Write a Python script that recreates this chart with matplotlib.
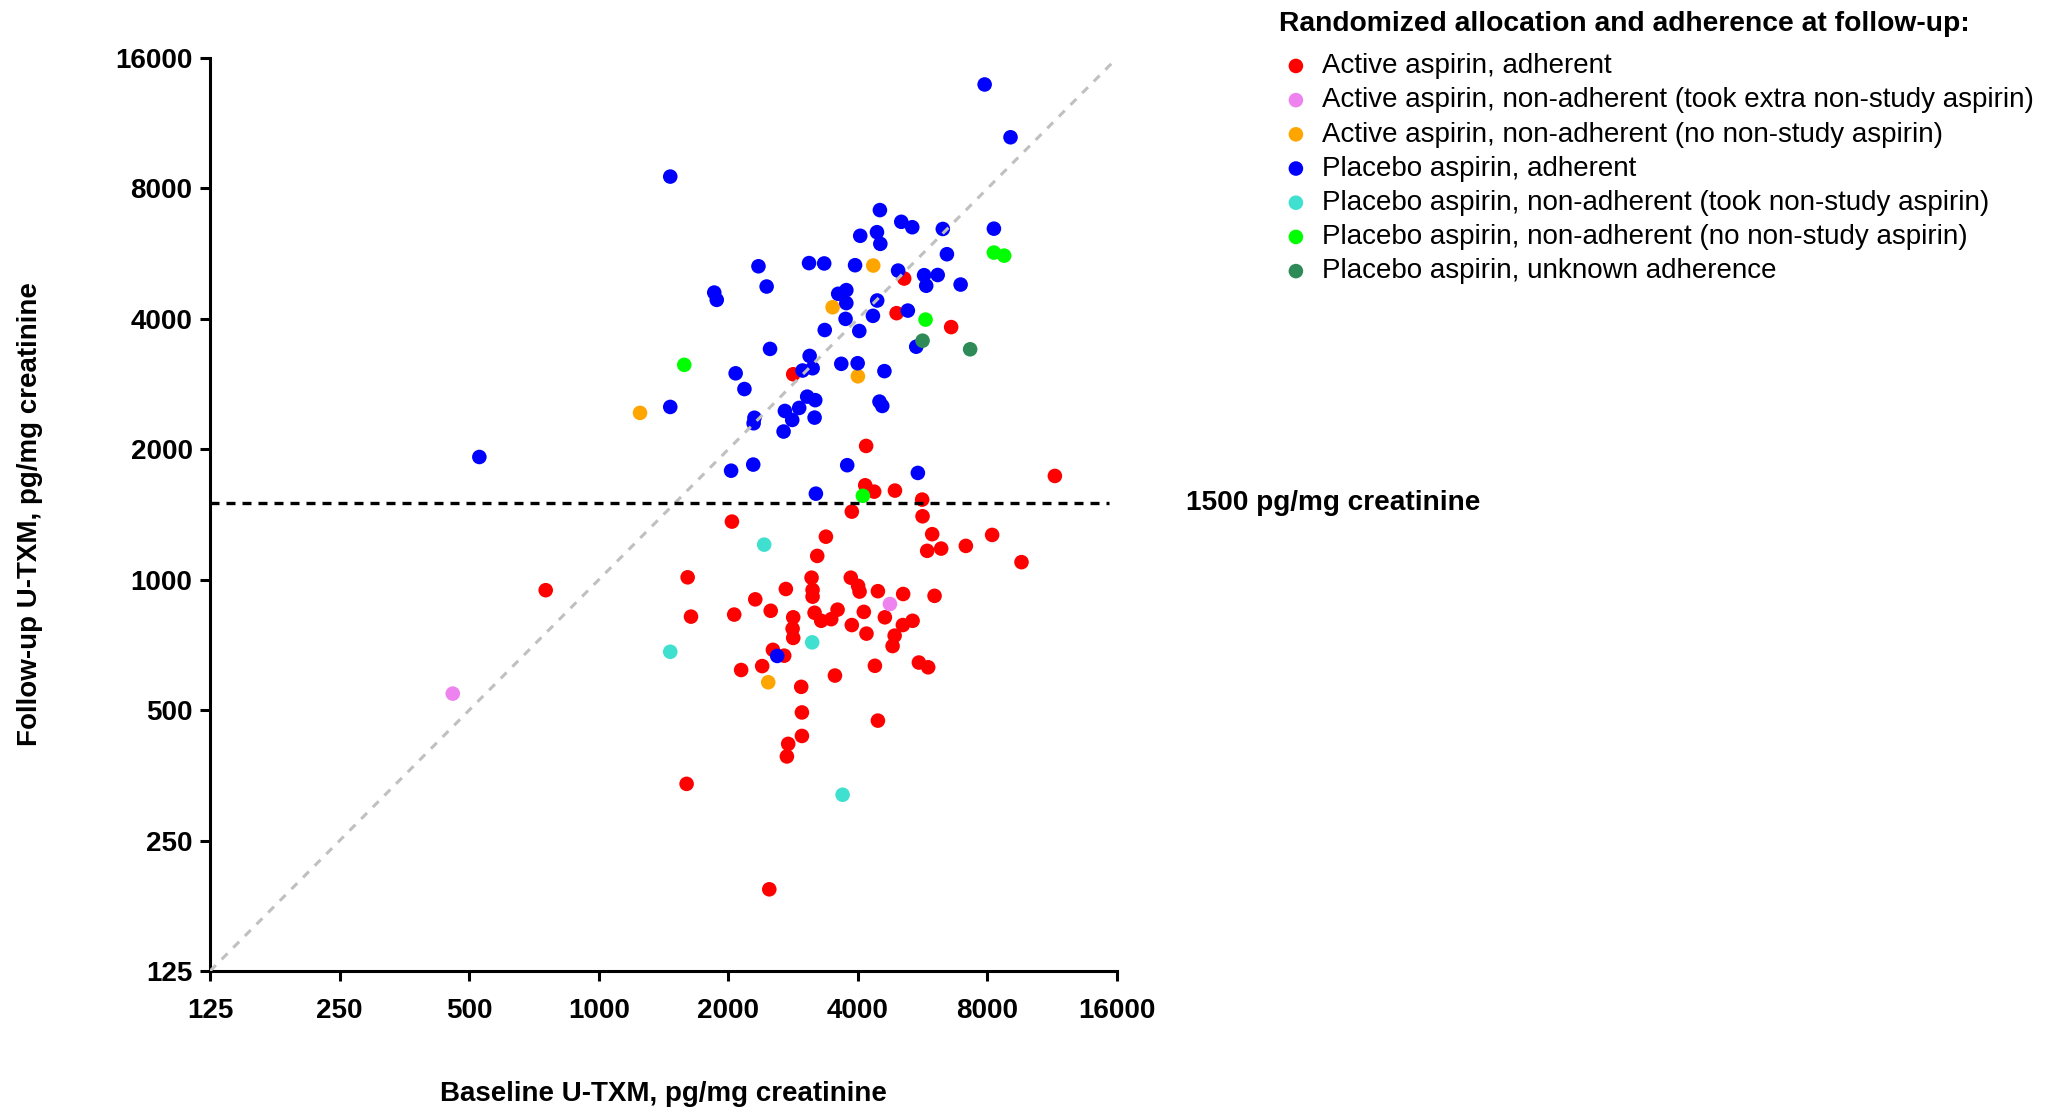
import matplotlib
matplotlib.use("Agg")
import matplotlib.pyplot as plt

plt.rcParams['font.family'] = ['Liberation Sans', 'DejaVu Sans']

# baseline / follow-up U-TXM (pg/mg creatinine)
active_adh_base = [5124, 4920, 6588, 2830, 4180, 11473, 4160, 4364, 4877, 5641,
                   3872, 5653, 2039, 1609, 3371, 3218, 5952, 5795, 6245, 7127,
                   8202, 9598, 3122, 3139, 3139, 2721, 2310, 2509, 1638, 2064,
                   3851, 4004, 4036, 4452, 5096, 6028, 3173, 3287, 3468, 3588,
                   4129, 4621, 5360, 5088, 3872, 4188, 2830, 2821, 2830, 4869,
                   4816, 2539, 2697, 2142, 2397, 4381, 5543, 5826, 3538, 2954,
                   2965, 4452, 2965, 2755, 2736, 1600, 2490, 753]
active_adh_fu = [4956, 4123, 3829, 2980, 2036, 1736, 1652, 1597, 1606, 1531,
                 1436, 1401, 1362, 1013, 1257, 1135, 1274, 1166, 1180, 1197,
                 1269, 1098, 1011, 947, 914, 952, 901, 848, 822, 831,
                 1011, 968, 939, 941, 927, 918, 839, 804, 811, 853,
                 843, 819, 804, 786, 786, 751, 819, 771, 734, 743,
                 703, 689, 668, 619, 632, 633, 644, 628, 601, 566,
                 494, 473, 436, 418, 391, 338, 193, 946]

active_extra_base = [4748, 458]
active_extra_fu = [879, 546]

active_nonadh_base = [4342, 3494, 4000, 1247, 2476]
active_nonadh_fu = [5311, 4255, 2948, 2427, 580]

placebo_adh_base = [7880, 9050, 1466, 4500, 5045, 5350, 6300, 8280, 4050, 4430,
                    4510, 6440, 2350, 3080, 3340, 3940, 4960, 5700, 6130, 5765,
                    6930, 1855, 1880, 2455, 3600, 3760, 3760, 4435, 5225, 3745,
                    4335, 3350, 4030, 5465, 2500, 3090, 3660, 3995, 2080, 2180,
                    2975, 3140, 4610, 1466, 2300, 2290, 2707, 2922, 3050, 3184,
                    2815, 3173, 2688, 4490, 4557, 2030, 2285, 3778, 5513, 3195,
                    528, 2598]
placebo_adh_fu = [13900, 10500, 8520, 7130, 6700, 6510, 6450, 6460, 6220, 6340,
                  5960, 5640, 5290, 5380, 5370, 5320, 5170, 5045, 5050, 4770,
                  4800, 4600, 4425, 4750, 4570, 4660, 4350, 4410, 4180, 4000,
                  4065, 3770, 3750, 3450, 3410, 3285, 3150, 3160, 2995, 2755,
                  3040, 3077, 3030, 2505, 2365, 2297, 2452, 2492, 2646, 2597,
                  2338, 2367, 2198, 2577, 2518, 1785, 1844, 1838, 1764, 1580,
                  1920, 667]

placebo_took_base = [2423, 3132, 1466, 3686]
placebo_took_fu = [1205, 717, 682, 319]

placebo_nonadh_base = [8280, 8748, 5745, 1580, 4108]
placebo_nonadh_fu = [5689, 5598, 3985, 3133, 1562]

placebo_unknown_base = [5653, 7292]
placebo_unknown_fu = [3562, 3403]

groups = [
    ("Active aspirin, adherent", active_adh_base, active_adh_fu, "#FF0000"),
    ("Active aspirin, non-adherent (took extra non-study aspirin)", active_extra_base, active_extra_fu, "#EE82EE"),
    ("Active aspirin, non-adherent (no non-study aspirin)", active_nonadh_base, active_nonadh_fu, "#FFA500"),
    ("Placebo aspirin, adherent", placebo_adh_base, placebo_adh_fu, "#0000FF"),
    ("Placebo aspirin, non-adherent (took non-study aspirin)", placebo_took_base, placebo_took_fu, "#40E0D0"),
    ("Placebo aspirin, non-adherent (no non-study aspirin)", placebo_nonadh_base, placebo_nonadh_fu, "#00FF00"),
    ("Placebo aspirin, unknown adherence", placebo_unknown_base, placebo_unknown_fu, "#2E8B57"),
]

ticks = [125, 250, 500, 1000, 2000, 4000, 8000, 16000]
threshold = 1500

fig = plt.figure(figsize=(20.53, 11.09), dpi=100)
ax = fig.add_axes([0.1023, 0.1244, 0.4418, 0.8233])

for label, xs, ys, col in groups:
    ax.scatter(xs, ys, s=110, color=col, edgecolors='none', label=label, zorder=3)

# identity line and the 1500 threshold
ax.plot([ticks[0], ticks[-1]], [ticks[0], ticks[-1]], color='#C0C0C0', lw=2.2,
        dashes=(2.7, 2.7), zorder=4)
ax.plot([ticks[0], ticks[-1] * 0.96], [threshold, threshold], color='black', lw=2.4,
        dashes=(2.7, 2.1), zorder=4)
ax.text(1.076, threshold, "1500 pg/mg creatinine", transform=ax.get_yaxis_transform(),
        fontsize=20.2, fontweight='bold', va='center', ha='left')

ax.set_xscale('log', base=2)
ax.set_yscale('log', base=2)
ax.set_xlim(ticks[0], ticks[-1])
ax.set_ylim(ticks[0], ticks[-1])
ax.set_xticks(ticks)
ax.set_yticks(ticks)
ax.set_xticklabels([str(t) for t in ticks])
ax.set_yticklabels([str(t) for t in ticks])
ax.minorticks_off()
for lab in ax.get_xticklabels() + ax.get_yticklabels():
    lab.set_fontweight('bold')
ax.tick_params(axis='both', direction='out', length=7.2, width=2.2, labelsize=20)
ax.tick_params(axis='x', pad=12)
ax.tick_params(axis='y', pad=5.4)

for side in ['top', 'right']:
    ax.spines[side].set_visible(False)
for side in ['left', 'bottom']:
    ax.spines[side].set_linewidth(2.2)

ax.set_xlabel("Baseline U-TXM, pg/mg creatinine", fontsize=20, fontweight='bold')
ax.set_ylabel("Follow-up U-TXM, pg/mg creatinine", fontsize=20, fontweight='bold')
ax.xaxis.set_label_coords(0.5, -0.1204)
ax.yaxis.set_label_coords(-0.184, 0.5)

# legend title placed on its own, items below it
fig.text(1279 / 2053, 1 - 23.6 / 1109, "Randomized allocation and adherence at follow-up:",
         fontsize=20.3, fontweight='bold', va='center', ha='left')
leg = fig.legend(loc='upper left', bbox_to_anchor=(1282 / 2053, 0.952), frameon=False,
                 fontsize=20, handlelength=1.0, handletextpad=0.44, labelspacing=0.295,
                 borderpad=0, borderaxespad=0)

fig.savefig("out.png", dpi=100)
